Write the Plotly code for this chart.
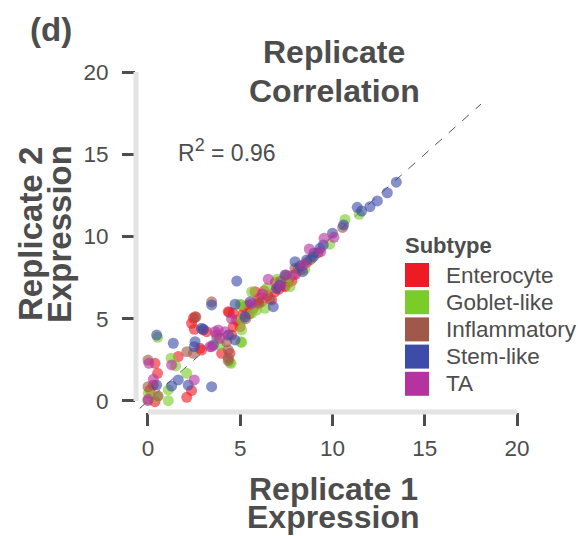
import plotly.graph_objects as go

# ---------------- data ----------------
subtypes = ["Enterocyte", "Goblet-like", "Inflammatory", "Stem-like", "TA"]
colors = ["#ED1C24", "#7ACC29", "#A0584A", "#3C4CA8", "#B5339F"]

enterocyte_x = [7.43, 6.88, 5.80, 6.70, 5.98, 6.16, 5.44, 5.71, 5.17, 4.62, 4.35, 4.80, 4.62, 4.99,
                4.53, 4.44, 3.99, 3.00, 3.18, 2.55, 2.82, 2.46, 2.36, 2.51, 2.90, 1.64, 0.38, 0.52,
                0.29, 0.11, 2.36, 2.10, 0.38, 8.60, 7.60, 7.40, 7.80, 6.50, 6.00, 7.10, 5.50, 4.40,
                8.00, 8.30, 6.30, 9.20, 6.90, 5.20]
enterocyte_y = [6.95, 6.64, 6.64, 6.14, 6.24, 6.03, 5.84, 5.63, 5.33, 5.33, 5.43, 4.92, 4.52, 4.52,
                4.01, 2.90, 2.90, 4.32, 4.21, 5.12, 3.20, 5.03, 4.72, 4.36, 3.10, 2.70, 2.29, 1.68,
                0.97, 0.67, 0.63, 0.22, -0.04, 8.41, 7.20, 7.00, 7.30, 6.40, 5.90, 6.80, 5.30, 5.40,
                7.70, 8.00, 6.70, 9.00, 7.20, 5.70]

goblet_x = [11.45, 10.68, 9.86, 8.50, 7.61, 7.43, 7.70, 6.43, 5.62, 6.34, 4.99, 5.62, 5.89, 5.07,
            5.07, 3.72, 5.07, 3.90, 4.44, 0.52, 1.25, 1.50, 0.02, 1.10, 2.10, 1.10, 5.04, 4.50,
            5.07, 0.50, 7.00, 8.90]
goblet_y = [11.35, 11.04, 9.53, 8.00, 7.55, 7.55, 6.95, 6.85, 6.64, 5.63, 5.88, 5.33, 5.53, 4.92,
            4.32, 3.81, 3.56, 3.40, 2.35, 3.87, 2.60, 2.13, 0.47, 0.67, 1.68, 0.02, 3.60, 2.29,
            5.84, 0.26, 7.40, 8.70]

inflam_x = [10.55, 8.15, 7.97, 4.26, 4.35, 4.35, 2.60, 3.45, 2.10, 2.46, 0.00, 0.00, 0.00, 0.55,
            4.35, 6.00, 6.60, 7.20, 8.80, 5.30]
inflam_y = [10.55, 8.07, 8.07, 3.60, 3.10, 2.60, 5.10, 6.03, 3.00, 2.90, 2.49, 0.87, 0.02, 0.30,
            2.45, 6.00, 6.20, 7.30, 8.60, 5.00]

stem_x = [13.46, 12.97, 12.43, 12.03, 11.34, 11.58, 10.60, 9.50, 9.32, 8.96, 8.60, 8.38, 7.97, 8.25,
          7.43, 7.15, 6.97, 6.79, 5.53, 4.72, 5.26, 4.35, 4.72, 3.54, 2.90, 3.45, 4.81, 3.00,
          0.47, 1.37, 2.55, 2.51, 0.47, 1.28, 1.64, 2.18, 3.45, 9.00, 10.00]
stem_y = [13.30, 12.66, 12.16, 11.81, 11.77, 11.55, 10.70, 9.48, 9.28, 8.77, 8.57, 7.86, 8.47, 8.20,
          7.66, 7.05, 6.85, 5.73, 6.03, 5.88, 5.12, 4.01, 3.71, 3.40, 4.42, 5.84, 7.29, 4.36,
          4.01, 3.51, 3.60, 3.30, 0.97, 0.91, 1.28, 0.97, 0.87, 9.00, 10.20]

ta_x = [10.08, 9.54, 8.74, 9.36, 8.42, 6.52, 7.88, 7.50, 4.53, 4.17, 3.81, 3.63, 3.72, 3.90, 3.36,
        3.45, 0.05, 1.28, 0.29, 2.51, 6.20, 5.60, 7.20, 0.00]
ta_y = [9.95, 9.89, 9.24, 9.08, 8.27, 7.40, 7.66, 7.66, 5.00, 4.21, 4.32, 4.21, 4.01, 3.81, 3.30,
        3.30, 2.29, 2.19, 1.32, 1.28, 6.50, 5.90, 7.00, 0.10]

series_x = [enterocyte_x, goblet_x, inflam_x, stem_x, ta_x]
series_y = [enterocyte_y, goblet_y, inflam_y, stem_y, ta_y]

ref_line = [-0.45, 18.05]
tick_vals = [0, 5, 10, 15, 20]
r2_text = "R<sup><span style='font-size:18px'>2</span></sup> = 0.96"

# ---------------- layout geometry ----------------
W, H = 578, 536
L, R, T, B = 136, 61, 72, 124
PW, PH = W - L - R, H - T - B
XR = [-0.65, 20]
YR = [-0.67, 20]
PLOT_BOTTOM = H - B

def px_x(p):
    return (p - L) / PW

def px_y(p):
    return (PLOT_BOTTOM - p) / PH

def dx_paper(v):
    return (v - XR[0]) / (XR[1] - XR[0])

def dy_paper(v):
    return (v - YR[0]) / (YR[1] - YR[0])

TXT = "#4D4D4D"
FONT = "Liberation Sans, Arial, Helvetica, sans-serif"

fig = go.Figure()

fig.add_trace(go.Scatter(x=ref_line, y=ref_line, mode="lines",
                         line=dict(color="#555555", width=1, dash="dash"),
                         hoverinfo="skip", showlegend=False))

for name, col, xs, ys in zip(subtypes, colors, series_x, series_y):
    fig.add_trace(go.Scatter(x=xs, y=ys, mode="markers", name=name,
                             marker=dict(color=col, size=11, opacity=0.62, line=dict(width=0)),
                             showlegend=False, cliponaxis=False))

shapes = [
    dict(type="line", xref="paper", yref="paper", x0=dx_paper(0), x1=dx_paper(20), y0=0, y1=0,
         line=dict(color="#E3E3E3", width=5), layer="above"),
    dict(type="line", xref="paper", yref="paper", x0=0, x1=0, y0=dy_paper(0), y1=dy_paper(20),
         line=dict(color="#E3E3E3", width=5), layer="above"),
]

annotations = []
# panel label
annotations.append(dict(text="<b>(d)</b>", xref="paper", yref="paper", x=px_x(51), y=px_y(29),
                        showarrow=False, font=dict(size=33, color=TXT, family=FONT),
                        xanchor="center", yanchor="middle"))
# title
for txt, yc in [("Replicate", 52), ("Correlation", 91)]:
    annotations.append(dict(text="<b>%s</b>" % txt, xref="paper", yref="paper", x=px_x(334), y=px_y(yc),
                            showarrow=False, font=dict(size=32, color=TXT, family=FONT),
                            xanchor="center", yanchor="middle"))
# x axis title
for txt, yc in [("Replicate 1", 489), ("Expression", 517)]:
    annotations.append(dict(text="<b>%s</b>" % txt, xref="paper", yref="paper", x=px_x(333), y=px_y(yc),
                            showarrow=False, font=dict(size=32, color=TXT, family=FONT),
                            xanchor="center", yanchor="middle"))
# y axis title
for txt, xc in [("Replicate 2", 30), ("Expression", 59)]:
    annotations.append(dict(text="<b>%s</b>" % txt, xref="paper", yref="paper", x=px_x(xc), y=px_y(234),
                            showarrow=False, textangle=-90, font=dict(size=33, color=TXT, family=FONT),
                            xanchor="center", yanchor="middle"))
# R^2
annotations.append(dict(text=r2_text, xref="x", yref="y", x=1.5, y=15.2, showarrow=False,
                        font=dict(size=23, color=TXT, family=FONT), xanchor="left", yanchor="middle"))

# legend (manual)
annotations.append(dict(text="<b>Subtype</b>", xref="paper", yref="paper", x=px_x(403), y=px_y(245),
                        showarrow=False, font=dict(size=22, color=TXT, family=FONT),
                        xanchor="left", yanchor="middle"))
row0, step = 275, 27.2
for i, (name, col) in enumerate(zip(subtypes, colors)):
    yc = row0 + i * step
    shapes.append(dict(type="rect", xref="paper", yref="paper",
                       x0=px_x(405), x1=px_x(429), y0=px_y(yc - 12), y1=px_y(yc + 12),
                       fillcolor=col, line=dict(width=0), layer="above"))
    annotations.append(dict(text=name, xref="paper", yref="paper", x=px_x(444), y=px_y(yc),
                            showarrow=False, font=dict(size=22.5, color=TXT, family=FONT),
                            xanchor="left", yanchor="middle"))

axis_common = dict(showgrid=False, zeroline=False, showline=False, ticks="outside",
                   ticklen=13, tickwidth=2.5, tickcolor="#4D4D4D",
                   tickvals=tick_vals, ticktext=[str(v) for v in tick_vals],
                   tickfont=dict(size=22.5, color=TXT, family=FONT))

fig.update_layout(
    width=W, height=H, margin=dict(l=L, r=R, t=T, b=B, pad=0),
    paper_bgcolor="white", plot_bgcolor="white",
    xaxis=dict(range=XR, ticklabelstandoff=3, **axis_common),
    yaxis=dict(range=YR, ticklabelstandoff=9, **axis_common),
    shapes=shapes, annotations=annotations, showlegend=False,
    font=dict(family=FONT, color=TXT),
)

fig.write_html("out.html")
